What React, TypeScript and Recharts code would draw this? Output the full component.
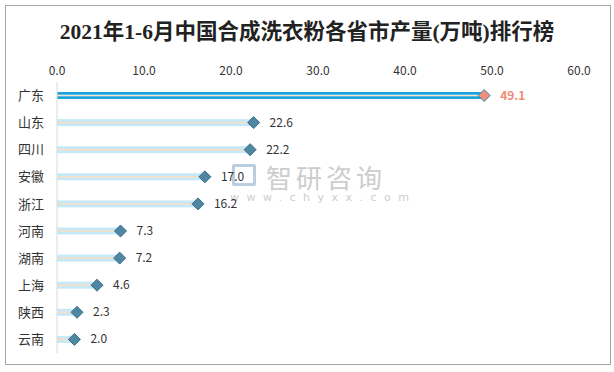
import { ComposedChart, Bar, XAxis, YAxis, LabelList, Cell } from 'recharts';

const provinces = ['广东', '山东', '四川', '安徽', '浙江', '河南', '湖南', '上海', '陕西', '云南'];
const output = [49.1, 22.6, 22.2, 17.0, 16.2, 7.3, 7.2, 4.6, 2.3, 2.0];
const xTicks = [0, 10, 20, 30, 40, 50, 60];

const data = provinces.map((name, i) => ({ name, value: output[i] }));

const FONT = '"Microsoft YaHei", "Noto Sans CJK SC", sans-serif';

// bar with a thin centre stripe and a diamond at its end
const LollipopBar = (props: any) => {
    const { x, y, width, height, index } = props;
    const top = index === 0;
    const cy = y + height / 2;
    const ex = x + width;
    const r = 6;
    return (
        <g>
            <rect x={x} y={y} width={width} height={height} fill={top ? '#1ba3de' : '#c6e9f9'} />
            <rect x={x} y={cy - 0.8} width={width} height={1.6} fill={top ? '#f3e9db' : '#f6dfc4'} />
            <path
                d={`M${ex - r},${cy} L${ex},${cy - r} L${ex + r},${cy} L${ex},${cy + r} Z`}
                fill={top ? '#f0907a' : '#4f87a3'}
                stroke={top ? '#3f88aa' : '#3a6f8c'}
                strokeWidth={1}
            />
        </g>
    );
};

export default function App() {
    return (
        <div style={{ position: 'absolute', left: 0, top: 0, width: 614, height: 372, background: '#fff', fontFamily: FONT }}>
            <div style={{ position: 'absolute', left: 5, top: 5, width: 606, height: 360, border: '1px solid #a6a6a6', boxSizing: 'border-box' }} />
            <div style={{ position: 'absolute', left: 0, top: 14, width: 614, textAlign: 'center', fontSize: 21.5, fontWeight: 'bold', color: '#222', fontFamily: '"Liberation Serif", "Noto Sans CJK SC", serif' }}>
                2021年1-6月中国合成洗衣粉各省市产量(万吨)排行榜
            </div>
            {/* watermark */}
            <div style={{ position: 'absolute', left: 232, top: 162, color: '#b8b8b8', opacity: 0.7 }}>
                <div style={{ position: 'absolute', left: 0, top: 2, width: 24, height: 22, border: '3px solid #9fb9d3', borderRadius: 2, boxSizing: 'border-box' }} />
                <div style={{ position: 'absolute', left: 34, top: -4, fontSize: 26, letterSpacing: 4, whiteSpace: 'nowrap' }}>智研咨询</div>
                <div style={{ position: 'absolute', left: -2, top: 29, fontSize: 11, letterSpacing: 7.5, whiteSpace: 'nowrap', fontFamily: '"DejaVu Sans", sans-serif' }}>www.chyxx.com</div>
            </div>
            <div style={{ position: 'absolute', left: 0, top: 0 }}>
                <ComposedChart
                    width={614}
                    height={372}
                    layout="vertical"
                    data={data}
                    margin={{ top: 62, right: 35, bottom: 19, left: 0 }}
                >
                    <XAxis
                        type="number"
                        orientation="top"
                        domain={[0, 60]}
                        ticks={xTicks}
                        tickFormatter={(v: number) => v.toFixed(1)}
                        axisLine={false}
                        tickLine={false}
                        tickSize={0}
                        tickMargin={7}
                        height={20}
                        tick={{ fontSize: 12, fill: '#333', fontFamily: FONT }}
                    />
                    <YAxis
                        type="category"
                        dataKey="name"
                        width={57}
                        axisLine={{ stroke: '#d9d9d9' }}
                        tickLine={false}
                        tickSize={0}
                        tickMargin={13}
                        tick={{ fontSize: 13, fill: '#333', fontFamily: FONT }}
                    />
                    <Bar dataKey="value" barSize={7} isAnimationActive={false} shape={LollipopBar}>
                        {data.map((d, i) => (
                            <Cell key={d.name} fill={i === 0 ? '#1ba3de' : '#c6e9f9'} />
                        ))}
                        <LabelList
                            dataKey="value"
                            position="right"
                            offset={16}
                            content={(p: any) => (
                                <text
                                    x={p.x + p.width + 16}
                                    y={p.y + p.height / 2}
                                    dy={4}
                                    fontSize={12}
                                    fontFamily={FONT}
                                    fill={p.index === 0 ? '#ef8c74' : '#333'}
                                    fontWeight={p.index === 0 ? 'bold' : 'normal'}
                                >
                                    {Number(p.value).toFixed(1)}
                                </text>
                            )}
                        />
                    </Bar>
                </ComposedChart>
            </div>
        </div>
    );
}
